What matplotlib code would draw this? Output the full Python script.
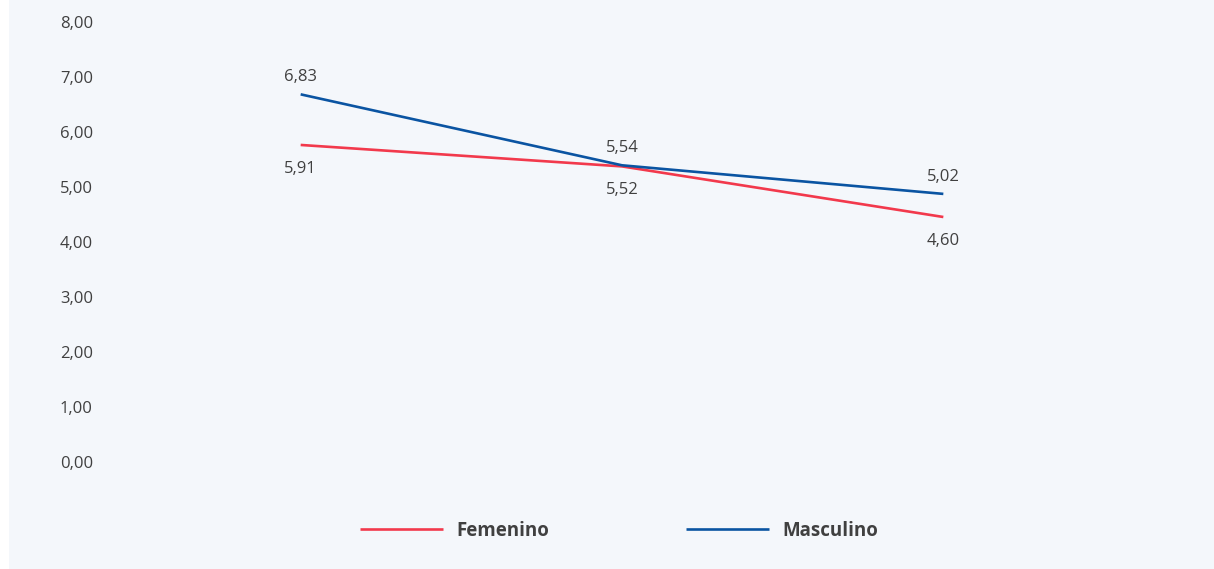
import matplotlib
matplotlib.use("Agg")
import matplotlib.pyplot as plt
import matplotlib.transforms as mtransforms
from matplotlib.patches import Rectangle

plt.rcParams['font.family'] = ['Open Sans', 'DejaVu Sans']

categories = ['A', 'B', 'C']
femenino = [5.91, 5.52, 4.60]
masculino = [6.83, 5.54, 5.02]
y_ticks = [0, 1, 2, 3, 4, 5, 6, 7, 8]

red = '#F2394C'
blue = '#0A54A2'
bg = '#F4F7FB'
text_col = '#404040'

fig = plt.figure(figsize=(12.14, 5.69), dpi=100, facecolor='white')
fig.patches.append(Rectangle((9 / 1214, 0), 1, 1, transform=fig.transFigure,
                             facecolor=bg, edgecolor='none', zorder=-10))

ax = fig.add_axes([140 / 1214, 1 - 470 / 569, 964 / 1214, 440 / 569])
ax.set_facecolor('none')

x = range(len(categories))
ax.plot(x, femenino, color=red, lw=1.9, label='Femenino', solid_capstyle='butt')
ax.plot(x, masculino, color=blue, lw=1.9, label='Masculino', solid_capstyle='butt')

# value labels: blue above its line, red below
for i, v in enumerate(masculino):
    ax.annotate(f'{v:.2f}'.replace('.', ','), (i, v), xytext=(0, 17),
                textcoords='offset pixels', ha='center', va='center',
                fontsize=12, color=text_col)
for i, v in enumerate(femenino):
    ax.annotate(f'{v:.2f}'.replace('.', ','), (i, v), xytext=(0, -24),
                textcoords='offset pixels', ha='center', va='center',
                fontsize=12, color=text_col)

ax.set_xlim(-0.5, 2.5)
ax.set_ylim(0, 8)
ax.set_xticks([])
ax.set_yticks(y_ticks)
ax.set_yticklabels([f'{t:.2f}'.replace('.', ',') for t in y_ticks],
                   fontsize=12, color=text_col)
ax.tick_params(axis='y', length=0, pad=34)
shift = mtransforms.ScaledTranslation(0, 8 / 100, fig.dpi_scale_trans)
for lab in ax.get_yticklabels():
    lab.set_transform(lab.get_transform() + shift)

for s in ax.spines.values():
    s.set_visible(False)

leg = fig.legend(loc='center', bbox_to_anchor=(619 / 1214, 1 - 531 / 569), ncol=2,
                 frameon=False, handlelength=4.45, handletextpad=0.7,
                 columnspacing=7.3, prop={'weight': 'bold', 'size': 13.5})
for t in leg.get_texts():
    t.set_color(text_col)

fig.savefig('out.png', dpi=100, facecolor=fig.get_facecolor())
